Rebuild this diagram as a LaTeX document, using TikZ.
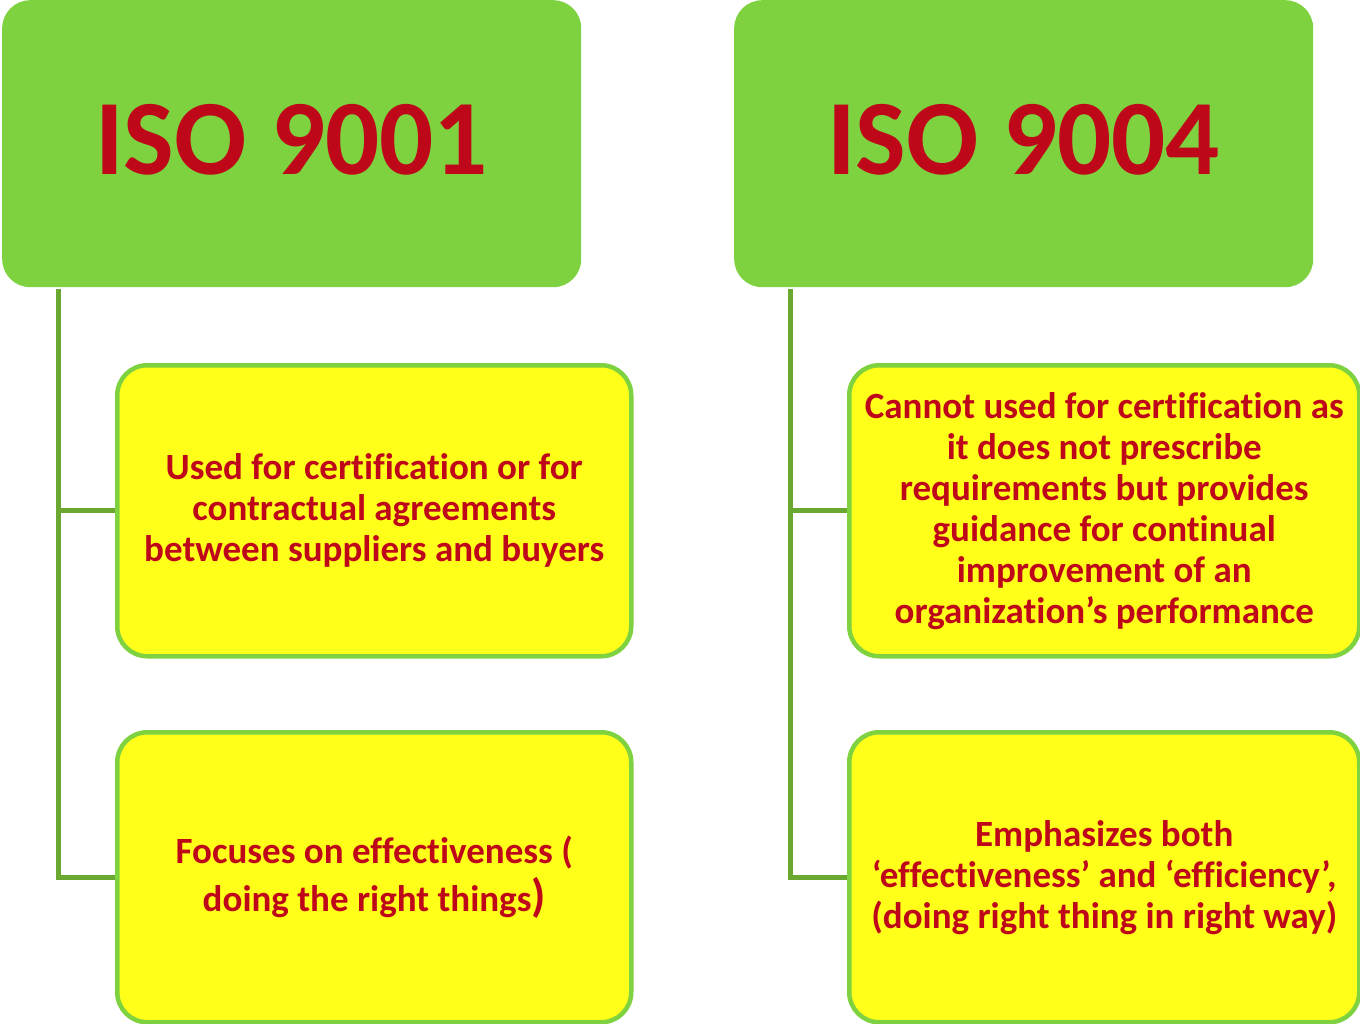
\documentclass[tikz,border=0pt]{standalone}
\usepackage{fontspec}
\setmainfont{Carlito}[RawFeature={-liga;-dlig;-clig}]
\definecolor{hdrgreen}{RGB}{126,209,63}
\definecolor{linegreen}{RGB}{106,168,50}
\definecolor{boxyellow}{RGB}{255,255,26}
\definecolor{txtred}{RGB}{190,8,26}
\begin{document}
\begin{tikzpicture}[x=1pt,y=-1pt,
  hdr/.style={fill=hdrgreen,rounded corners=28pt,minimum width=579pt,minimum height=287pt,
    anchor=north west,inner sep=0pt,text=txtred,font=\fontsize{107}{110}\selectfont\bfseries},
  itembox/.style={draw=hdrgreen,line width=4.5pt,fill=boxyellow,rounded corners=30pt,
    anchor=north west,inner sep=0pt,text=txtred,align=center,
    font=\fontsize{37}{41}\selectfont\bfseries},
  conn/.style={draw=linegreen,line width=5pt}]
\useasboundingbox (0,0) rectangle (1360,1024);
\node[hdr] (h1) at (2,0) {\raisebox{4pt}[\height][\depth]{ISO 9001}};
\node[hdr] (h2) at (734,0) {\raisebox{4pt}[\height][\depth]{ISO 9004}};
\node[itembox,minimum width=514pt,minimum height=291pt] (b1) at (115,363) {Used for certification or for\\contractual agreements\\between suppliers and buyers};
\node[itembox,minimum width=514pt,minimum height=290pt] (b2) at (115,730) {Focuses on effectiveness (\\[7pt]doing the right things{\fontsize{46}{41}\selectfont)}};
\node[itembox,minimum width=510pt,minimum height=291pt] (b3) at (847,363) {Cannot used for certification as\\it does not prescribe\\requirements but provides\\guidance for continual\\improvement of an\\organization’s performance};
\node[itembox,minimum width=510pt,minimum height=290pt] (b4) at (847,730) {Emphasizes both\\‘effectiveness’ and ‘efficiency’,\\(doing right thing in right way)};
\coordinate (s1) at ([xshift=56pt]h1.south west);
\coordinate (s2) at ([xshift=56pt]h2.south west);
\draw[conn] ([yshift=-2pt]s1) |- (b1.west);
\draw[conn] ([yshift=-2pt]s1) |- (b2.west);
\draw[conn] ([yshift=-2pt]s2) |- (b3.west);
\draw[conn] ([yshift=-2pt]s2) |- (b4.west);
\end{tikzpicture}
\end{document}
